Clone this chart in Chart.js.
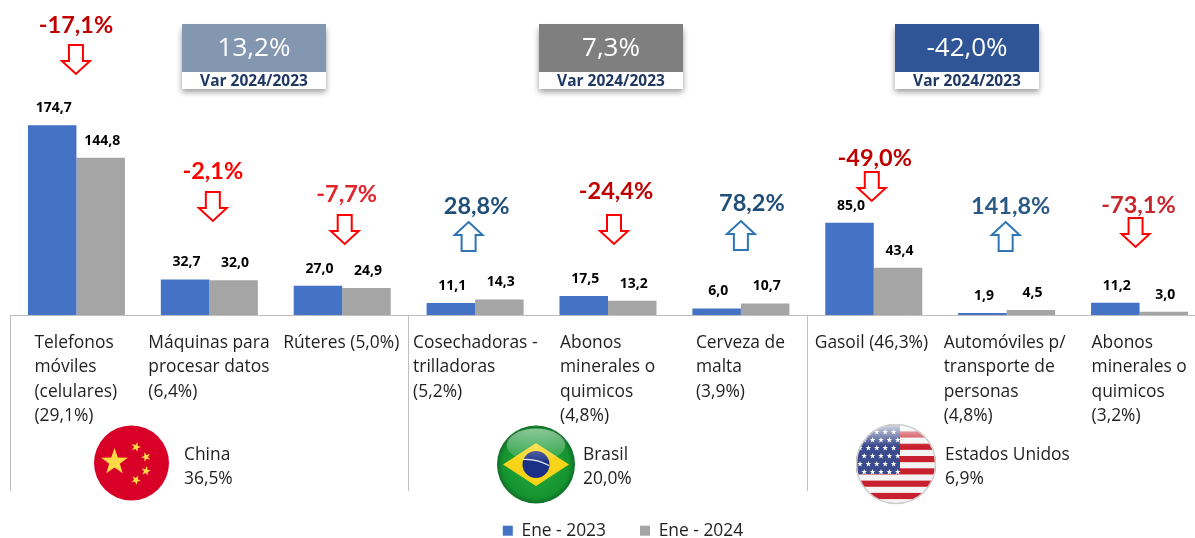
<!DOCTYPE html>
<html>
<head>
<meta charset="utf-8">
<title>Ene 2024</title>
<script src="https://cdn.jsdelivr.net/npm/chart.js@4"></script>
<style>
  html, body { margin: 0; padding: 0; background: #fff; overflow: hidden; }
  #wrap { width: 1195px; height: 538px; overflow: hidden; }
</style>
</head>
<body>
<div id="wrap"><canvas id="chart" width="1206" height="538"></canvas></div>
<script>
const categories = [
  ['Telefonos', 'móviles', '(celulares)', '(29,1%)'],
  ['Máquinas para', 'procesar datos', '(6,4%)'],
  ['Rúteres (5,0%)'],
  ['Cosechadoras -', 'trilladoras', '(5,2%)'],
  ['Abonos', 'minerales o', 'quimicos', '(4,8%)'],
  ['Cerveza de', 'malta', '(3,9%)'],
  ['Gasoil (46,3%)'],
  ['Automóviles p/', 'transporte de', 'personas', '(4,8%)'],
  ['Abonos', 'minerales o', 'quimicos', '(3,2%)']
];
const ene2023 = [174.7, 32.7, 27.0, 11.1, 17.5, 6.0, 85.0, 1.9, 11.2];
const ene2024 = [144.8, 32.0, 24.9, 14.3, 13.2, 10.7, 43.4, 4.5, 3.0];
const variations = ['-17,1%', '-2,1%', '-7,7%', '28,8%', '-24,4%', '78,2%', '-49,0%', '141,8%', '-73,1%'];
const variationColors = ['#c00000', '#ff0000', '#e3242b', '#1f4e79', '#c00000', '#1f4e79', '#c00000', '#2a5a85', '#c9252b'];
const countries = ['China', 'Brasil', 'Estados Unidos'];
const countryShares = ['36,5%', '20,0%', '6,9%'];
const countryTotals = ['13,2%', '7,3%', '-42,0%'];

// layout tweaks, hand measured against the picture
const labelDx = [-42, -61, -59, -62, -48, -45, -59, -63, -48];
const varTextDx = [-0.5, 3.5, 4.5, 1.5, 8, 11, 1, 4, -1];
const varTextY = [25, 171, 194, 206, 191, 203, 158, 206, 205];
const arrowDx = [-0.5, 3.5, 2.5, -6.5, 6, 0, -2, -1, -4];
const arrowTop = [45, 192, 215, 222, 215, 221, 172, 222, 218];
const boxX = [182, 539, 895];
const boxColors = ['#8497b0', '#7f7f7f', '#2f5597'];
const countryTextX = [184, 583, 945];

const FONT = '"Open Sans", sans-serif';

function star(ctx, x, y, r, rot) {
  ctx.beginPath();
  for (let i = 0; i < 10; i++) {
    const a = -Math.PI / 2 + (rot || 0) + i * Math.PI / 5;
    const d = i % 2 ? r * 0.4 : r;
    ctx.lineTo(x + Math.cos(a) * d, y + Math.sin(a) * d);
  }
  ctx.closePath();
  ctx.fill();
}

function drawArrow(ctx, cx, top, up, color) {
  const h = 29, hw = 14, sw = 7, neck = 16;
  ctx.beginPath();
  if (up) {
    ctx.moveTo(cx, top);
    ctx.lineTo(cx + hw, top + h - neck);
    ctx.lineTo(cx + sw, top + h - neck);
    ctx.lineTo(cx + sw, top + h);
    ctx.lineTo(cx - sw, top + h);
    ctx.lineTo(cx - sw, top + h - neck);
    ctx.lineTo(cx - hw, top + h - neck);
  } else {
    ctx.moveTo(cx - sw, top);
    ctx.lineTo(cx + sw, top);
    ctx.lineTo(cx + sw, top + neck);
    ctx.lineTo(cx + hw, top + neck);
    ctx.lineTo(cx, top + h);
    ctx.lineTo(cx - hw, top + neck);
    ctx.lineTo(cx - sw, top + neck);
  }
  ctx.closePath();
  ctx.fillStyle = '#fff';
  ctx.fill();
  ctx.strokeStyle = color;
  ctx.lineWidth = 2;
  ctx.stroke();
}

function flagChina(ctx, x, y, r) {
  ctx.save();
  ctx.beginPath();
  ctx.arc(x, y, r, 0, Math.PI * 2);
  ctx.fillStyle = '#d80027';
  ctx.fill();
  ctx.fillStyle = '#ffda44';
  star(ctx, x - 17, y - 1, 14);
  star(ctx, x + 4.5, y - 16, 5, 0.3);
  star(ctx, x + 14.5, y - 6, 5, 0.9);
  star(ctx, x + 14.5, y + 8, 5, 0.2);
  star(ctx, x + 4.5, y + 17, 5, 0.5);
  ctx.restore();
}

function gloss(ctx, x, y, r) {
  const g = ctx.createLinearGradient(0, y - r, 0, y);
  g.addColorStop(0, 'rgba(255,255,255,0.55)');
  g.addColorStop(1, 'rgba(255,255,255,0.03)');
  ctx.beginPath();
  ctx.ellipse(x, y - r * 0.5, r * 0.75, r * 0.42, 0, 0, Math.PI * 2);
  ctx.fillStyle = g;
  ctx.fill();
}

function flagBrazil(ctx, x, y, r) {
  ctx.save();
  const g = ctx.createRadialGradient(x, y, r * 0.3, x, y, r);
  g.addColorStop(0, '#21a33a');
  g.addColorStop(0.8, '#14932f');
  g.addColorStop(1, '#0f6f27');
  ctx.beginPath();
  ctx.arc(x, y, r, 0, Math.PI * 2);
  ctx.fillStyle = g;
  ctx.fill();
  ctx.beginPath();
  ctx.moveTo(x - 33, y);
  ctx.lineTo(x, y - 21.5);
  ctx.lineTo(x + 33, y);
  ctx.lineTo(x, y + 21.5);
  ctx.closePath();
  ctx.fillStyle = '#f7d417';
  ctx.fill();
  ctx.beginPath();
  ctx.arc(x, y, 13.5, 0, Math.PI * 2);
  ctx.fillStyle = '#1a2f86';
  ctx.fill();
  ctx.beginPath();
  ctx.moveTo(x - 13, y - 5);
  ctx.quadraticCurveTo(x, y - 6, x + 13, y + 1);
  ctx.strokeStyle = '#e8e8e8';
  ctx.lineWidth = 1.2;
  ctx.stroke();
  gloss(ctx, x, y, r);
  ctx.restore();
}

function flagUsa(ctx, x, y, r) {
  ctx.save();
  ctx.beginPath();
  ctx.arc(x, y, r, 0, Math.PI * 2);
  ctx.clip();
  ctx.fillStyle = '#f4f4f4';
  ctx.fillRect(x - r, y - r, r * 2, r * 2);
  ctx.fillStyle = '#c8202f';
  const sh = r * 2 / 13;
  for (let i = 1; i < 13; i += 2) ctx.fillRect(x - r, y - r + i * sh + sh * 0.2, r * 2, sh);
  ctx.fillStyle = '#3a4a8c';
  ctx.fillRect(x - r, y - r, r + 4, 50);
  ctx.fillStyle = '#fff';
  for (let row = 0; row < 6; row++) {
    for (let col = 0; col < 5; col++) {
      star(ctx, x - r + 4 + col * 8.4 + (row % 2) * 4.2, y - r + 8 + row * 8, 3);
    }
  }
  const g = ctx.createLinearGradient(0, y - r, 0, y - r * 0.45);
  g.addColorStop(0, 'rgba(255,255,255,0.8)');
  g.addColorStop(1, 'rgba(255,255,255,0)');
  ctx.fillStyle = g;
  ctx.fillRect(x - r, y - r, r * 2, r);
  ctx.restore();
  ctx.beginPath();
  ctx.arc(x, y, r - 0.5, 0, Math.PI * 2);
  ctx.strokeStyle = '#cfcfcf';
  ctx.lineWidth = 1.5;
  ctx.stroke();
}

const decorations = {
  id: 'decorations',
  afterLayout(chart) {
    // legend sits off the chart centre in the picture
    const lg = chart.legend;
    lg.left += 15;
    lg.right += 15;
    lg.top = 488;
    lg.bottom = 538;
  },
  afterDatasetsDraw(chart) {
    const ctx = chart.ctx;
    const xs = chart.scales.x;
    const step = xs.getPixelForTick(1) - xs.getPixelForTick(0);
    ctx.save();

    // value labels
    ctx.font = 'bold 14px ' + FONT;
    ctx.fillStyle = '#000';
    ctx.textAlign = 'center';
    ctx.textBaseline = 'middle';
    chart.data.datasets.forEach((ds, d) => {
      chart.getDatasetMeta(d).data.forEach((bar, i) => {
        ctx.fillText(ds.data[i].toFixed(1).replace('.', ','), bar.x + 1.5, bar.y - 17);
      });
    });

    // category labels, left aligned
    ctx.font = '17.4px ' + FONT;
    ctx.fillStyle = '#1f1f1f';
    ctx.textAlign = 'left';
    categories.forEach((lines, i) => {
      lines.forEach((line, k) => {
        ctx.fillText(line, xs.getPixelForTick(i) + labelDx[i], 343 + k * 24.4);
      });
    });

    // group separators
    ctx.strokeStyle = '#bfbfbf';
    ctx.lineWidth = 1;
    [0, 3, 6].forEach(i => {
      const px = Math.floor(xs.getPixelForTick(i) - step / 2) + 0.5;
      ctx.beginPath();
      ctx.moveTo(px, chart.chartArea.bottom);
      ctx.lineTo(px, 491);
      ctx.stroke();
    });

    // variation text and arrows
    variations.forEach((v, i) => {
      const cx = xs.getPixelForTick(i);
      ctx.font = 'bold 23.5px Lato, sans-serif';
      ctx.textAlign = 'center';
      ctx.fillStyle = variationColors[i];
      ctx.fillText(v, cx + varTextDx[i], varTextY[i]);
      const up = v[0] !== '-';
      drawArrow(ctx, cx + arrowDx[i], arrowTop[i], up, up ? '#2e75b6' : '#ff0000');
    });

    // country total boxes
    countryTotals.forEach((t, i) => {
      const x = boxX[i];
      ctx.save();
      ctx.shadowColor = 'rgba(0,0,0,0.4)';
      ctx.shadowBlur = 6;
      ctx.shadowOffsetY = 3;
      ctx.fillStyle = '#fff';
      ctx.fillRect(x, 26, 144, 63);
      ctx.restore();
      ctx.fillStyle = boxColors[i];
      ctx.fillRect(x, 24, 144, 48);
      ctx.fillStyle = '#fff';
      ctx.font = '26px ' + FONT;
      ctx.textAlign = 'center';
      ctx.fillText(t, x + 72, 49);
      ctx.fillStyle = '#1f3864';
      ctx.font = 'bold 15.5px ' + FONT;
      ctx.fillText('Var 2024/2023', x + 72, 82);
    });

    // countries
    ctx.font = '17.4px ' + FONT;
    ctx.fillStyle = '#1f1f1f';
    ctx.textAlign = 'left';
    countries.forEach((c, i) => {
      ctx.fillText(c, countryTextX[i], 455);
      ctx.fillText(countryShares[i], countryTextX[i], 479);
    });
    flagChina(ctx, 131.5, 463, 37.5);
    flagBrazil(ctx, 536, 464.5, 39);
    flagUsa(ctx, 896, 464, 40);

    ctx.restore();
  }
};

new Chart(document.getElementById('chart').getContext('2d'), {
  type: 'bar',
  data: {
    labels: categories,
    datasets: [
      { label: 'Ene - 2023', data: ene2023, backgroundColor: '#4472c4' },
      { label: 'Ene - 2024', data: ene2024, backgroundColor: '#a5a5a5' }
    ]
  },
  options: {
    responsive: false,
    animation: false,
    layout: { padding: { left: 10 } },
    datasets: { bar: { categoryPercentage: 0.73, barPercentage: 1 } },
    scales: {
      x: {
        grid: { display: false, drawTicks: false },
        border: { color: '#bfbfbf', width: 1 },
        ticks: { display: false },
        afterFit(scale) { scale.height = 223 - scale.chart.legend.height; }
      },
      y: { display: false, min: 0, max: 290 }
    },
    plugins: {
      tooltip: { enabled: false },
      legend: {
        position: 'bottom',
        labels: {
          boxWidth: 10,
          boxHeight: 10,
          padding: 34,
          color: '#1f1f1f',
          font: { family: 'Open Sans', size: 17.4 }
        }
      }
    }
  },
  plugins: [decorations]
});
</script>
</body>
</html>
